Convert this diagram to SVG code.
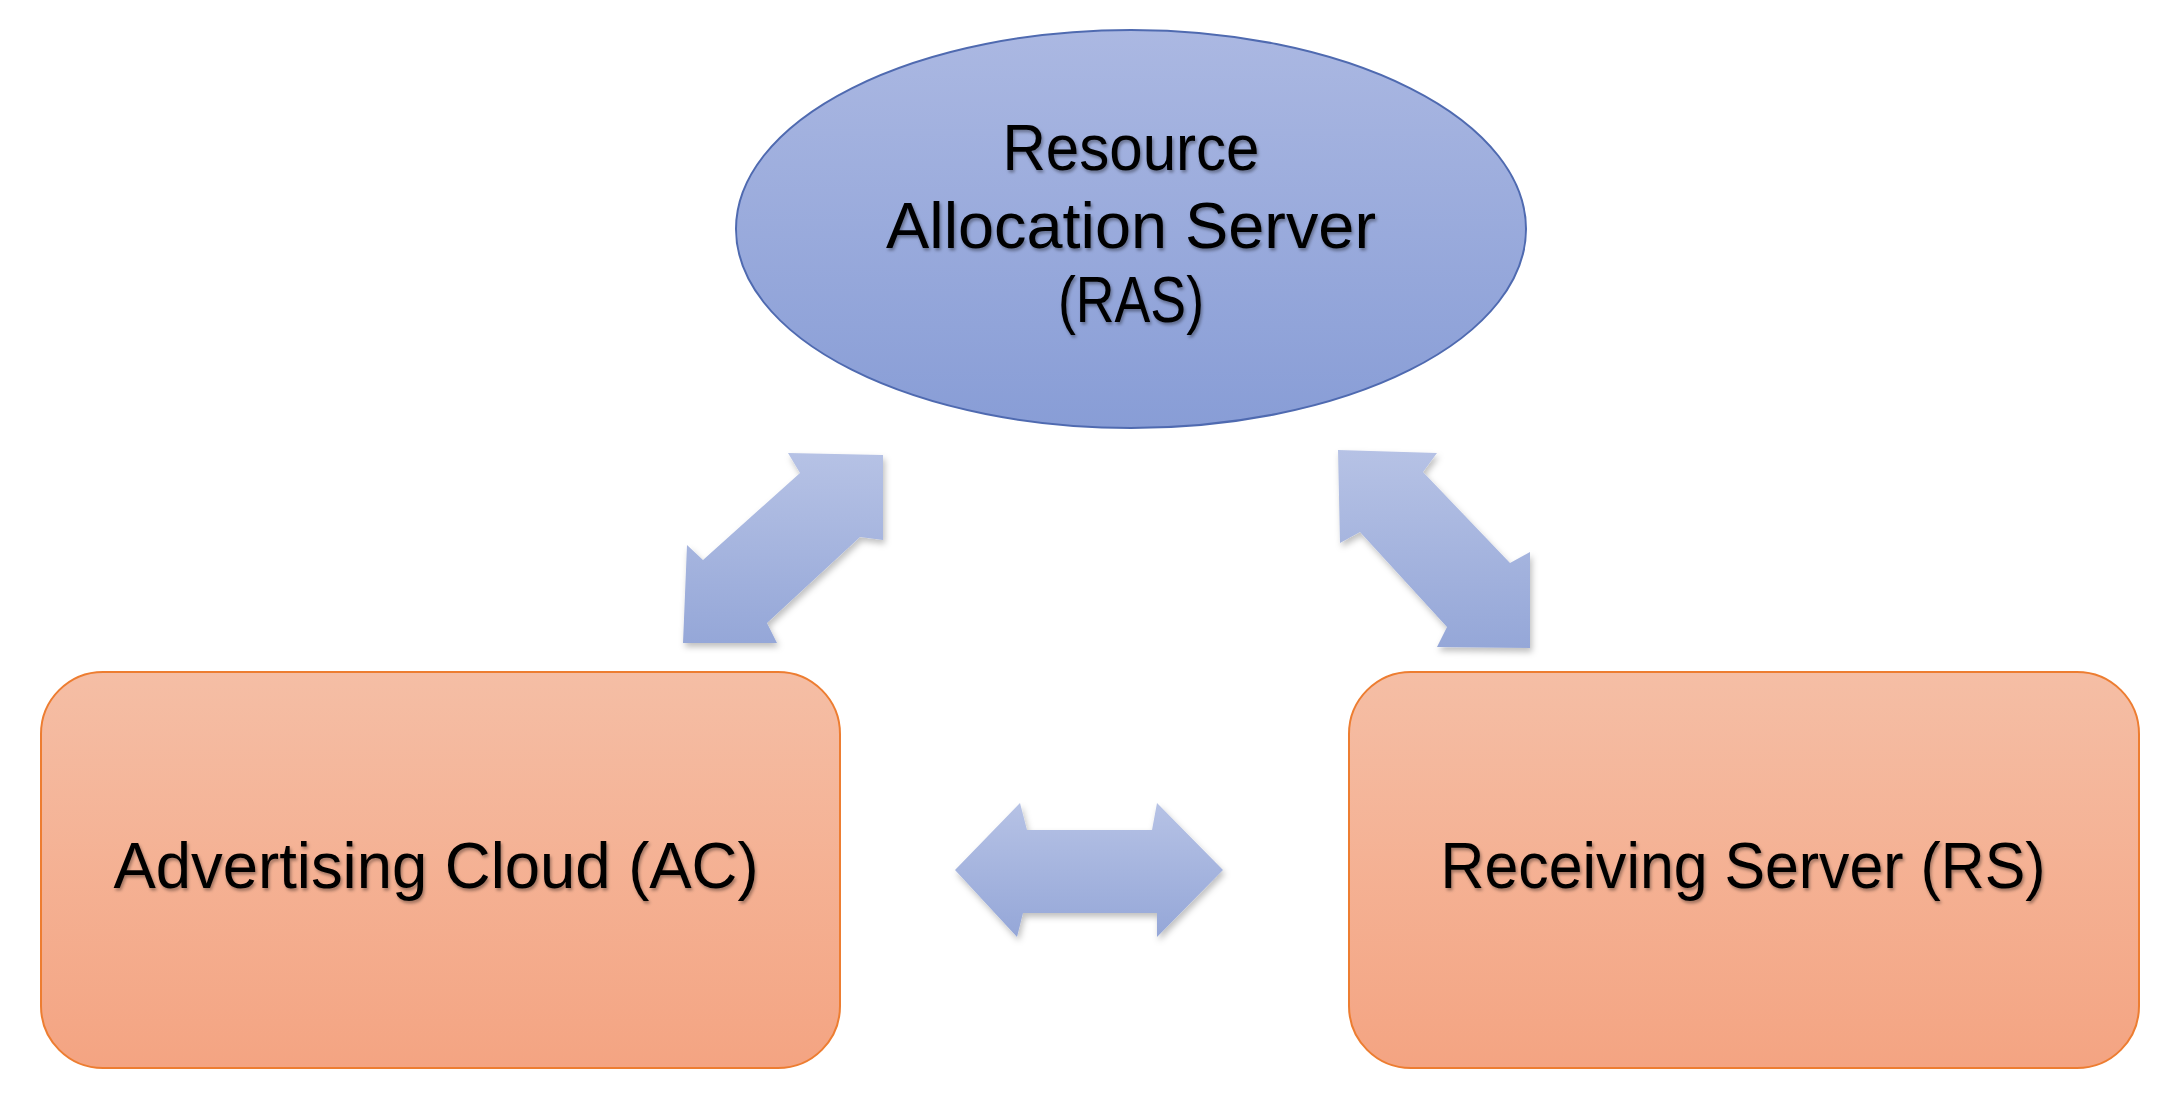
<svg xmlns="http://www.w3.org/2000/svg" width="2169" height="1113" viewBox="0 0 2169 1113">
<defs>
<linearGradient id="gEll" x1="0" y1="0" x2="0" y2="1">
<stop offset="0" stop-color="#abb8e2"/>
<stop offset="1" stop-color="#889dd6"/>
</linearGradient>
<linearGradient id="gBox" x1="0" y1="0" x2="0" y2="1">
<stop offset="0" stop-color="#f5bea5"/>
<stop offset="1" stop-color="#f4a482"/>
</linearGradient>
<linearGradient id="gArr" x1="0" y1="0" x2="0" y2="1">
<stop offset="0" stop-color="#b6c2e5"/>
<stop offset="1" stop-color="#95a7d8"/>
</linearGradient>
<filter id="shadow" x="-10%" y="-10%" width="130%" height="130%">
<feDropShadow dx="2" dy="4" stdDeviation="3" flood-color="#000" flood-opacity="0.25"/>
</filter>
<filter id="tshadow" x="-5%" y="-20%" width="110%" height="150%">
<feDropShadow dx="1.5" dy="2.5" stdDeviation="1.5" flood-color="#000" flood-opacity="0.35"/>
</filter>
</defs>
<style>
.lbl{font-family:"Liberation Sans",Arial,sans-serif;font-size:64px;fill:#000;text-anchor:middle;filter:url(#tshadow)}
.box{fill:url(#gBox);stroke:#ed7d31;stroke-width:2}
.ell{fill:url(#gEll);stroke:#4f6ab0;stroke-width:2}
.arr{fill:url(#gArr);filter:url(#shadow)}
</style>
<rect width="2169" height="1113" fill="#fff"/>
<g id="connectors">
<polygon class="arr" points="883,455 788,453 800,473 703,560 687,545 683,643 777,643 767,623 860,537 883,540"/>
<polygon class="arr" points="1338,450 1437,453 1423,472 1510,563 1530,552 1530,648 1437,647 1447,627 1360,532 1340,543"/>
<polygon class="arr" points="955,870 1020,803 1027,830 1152,830 1157,803 1223,870 1157,937 1157,913 1023,913 1017,937"/>
</g>
<g id="ras">
<ellipse class="ell" cx="1131" cy="229" rx="395" ry="199"/>
<text class="lbl" x="1131" y="170" textLength="257" lengthAdjust="spacingAndGlyphs">Resource</text>
<text class="lbl" x="1131" y="248" textLength="490" lengthAdjust="spacingAndGlyphs">Allocation Server</text>
<text class="lbl" x="1131" y="322" textLength="146" lengthAdjust="spacingAndGlyphs">(RAS)</text>
</g>
<g id="ac">
<rect class="box" x="41" y="672" width="799" height="396" rx="62" ry="62"/>
<text class="lbl" x="436" y="888" textLength="645" lengthAdjust="spacingAndGlyphs">Advertising Cloud (AC)</text>
</g>
<g id="rs">
<rect class="box" x="1349" y="672" width="790" height="396" rx="62" ry="62"/>
<text class="lbl" x="1743" y="888" textLength="605" lengthAdjust="spacingAndGlyphs">Receiving Server (RS)</text>
</g>
</svg>
